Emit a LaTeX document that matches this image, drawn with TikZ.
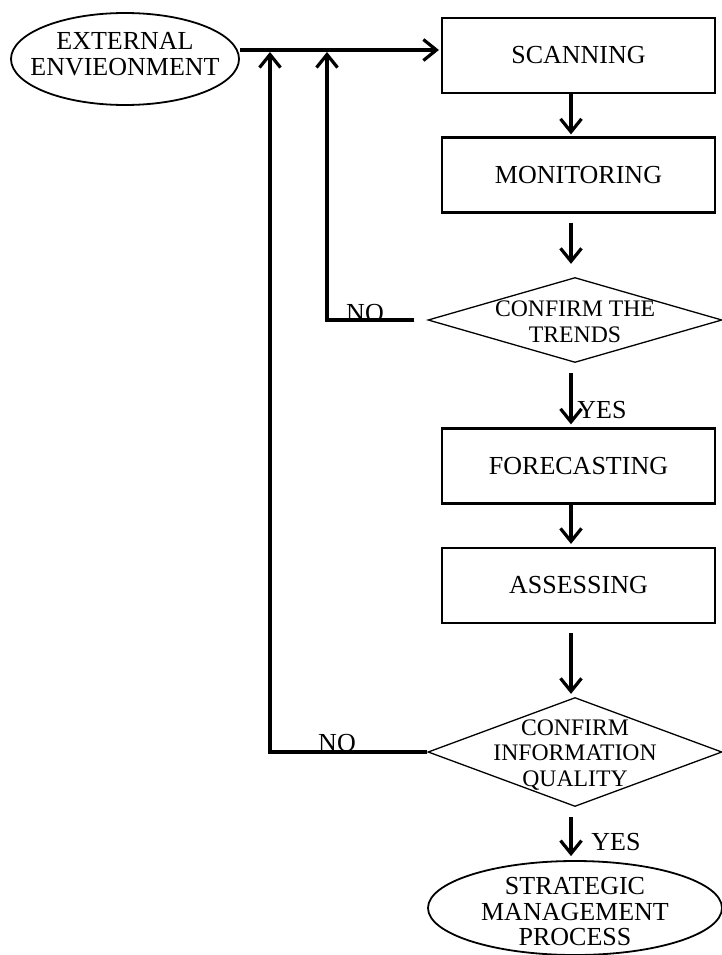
\documentclass[tikz,border=0pt]{standalone}
\usepackage{fontspec}
\setmainfont{Liberation Serif}
\usetikzlibrary{shapes.geometric,arrows.meta}

\begin{document}
\begin{tikzpicture}[x=1pt,y=-1pt]
	\tikzstyle{every node}+=[inner sep=0pt]
	\tikzstyle{stepbox}=[draw, line width=2.2pt, minimum width=273pt, minimum height=75pt, font=\fontsize{26}{25.5}\selectfont]
	\tikzstyle{decide}=[draw, diamond, line width=1.3pt, minimum width=294pt]
	\tikzstyle{terminal}=[draw, ellipse, line width=1.8pt]
	\tikzstyle{bigtxt}=[align=center, font=\fontsize{26}{25.5}\selectfont]
	\tikzstyle{smalltxt}=[align=center, font=\fontsize{23.7}{25.5}\selectfont]
	\tikzstyle{arr}=[line width=3.2pt, -{Straight Barb[length=13pt,width=21pt]}]
	\useasboundingbox (0,0) rectangle (722,955);
	% nodes
	\node [terminal, minimum width=228pt, minimum height=92pt] (ext) at (125,59) {};
	\node [bigtxt] (extlbl) at (125,54) {EXTERNAL\\ENVIEONMENT};
	\node [stepbox] (scan) at (578.5,55.5) {SCANNING};
	\node [stepbox] (mon) at (578.5,175) {MONITORING};
	\node [decide, minimum height=85pt] (trend) at (575,320) {};
	\node [smalltxt] (trendlbl) at (575,322) {CONFIRM THE\\TRENDS};
	\node [stepbox] (fore) at (578.5,466) {FORECASTING};
	\node [stepbox] (assess) at (578.5,585.5) {ASSESSING};
	\node [decide, minimum height=109pt] (info) at (575,752) {};
	\node [smalltxt] (infolbl) at (575,755) {CONFIRM\\INFORMATION\\QUALITY};
	\node [terminal, minimum width=294pt, minimum height=94pt] (smp) at (575,908) {};
	\node [bigtxt] (smplbl) at (575,912) {STRATEGIC\\MANAGEMENT\\PROCESS};
	\coordinate (axis) at (571,0);
	\coordinate (back1) at (327,52);
	\coordinate (back2) at (270,52);
	% main flow
	\draw [arr, shorten >=2pt] (ext.east |- 0,50) -- (scan.west |- 0,50);
	\draw [arr, shorten >=2pt] (scan.south -| axis) -- (mon.north -| axis);
	\draw [arr, shorten <=9pt, shorten >=13pt] (mon.south -| axis) -- (trend.north -| axis);
	\draw [arr, shorten <=10pt, shorten >=3pt] (trend.south -| axis) -- (fore.north -| axis);
	\draw [arr, shorten >=3pt] (fore.south -| axis) -- (assess.north -| axis);
	\draw [arr, shorten <=9pt, shorten >=3pt] (assess.south -| axis) -- (info.north -| axis);
	\draw [arr, shorten <=10pt, shorten >=4pt] (info.south -| axis) -- (smp.north -| axis);
	% loops back
	\draw [arr, shorten <=13pt] (trend.west) -| (back1);
	\draw [arr] (info.west) -| (back2);
	\node [bigtxt, anchor=base] (no1) at (365,321) {NO};
	\node [bigtxt, anchor=base] (no2) at (337,751) {NO};
	\node [bigtxt, anchor=base] (yes1) at (602,418) {YES};
	\node [bigtxt, anchor=base] (yes2) at (616,850) {YES};
\end{tikzpicture}
\end{document}
